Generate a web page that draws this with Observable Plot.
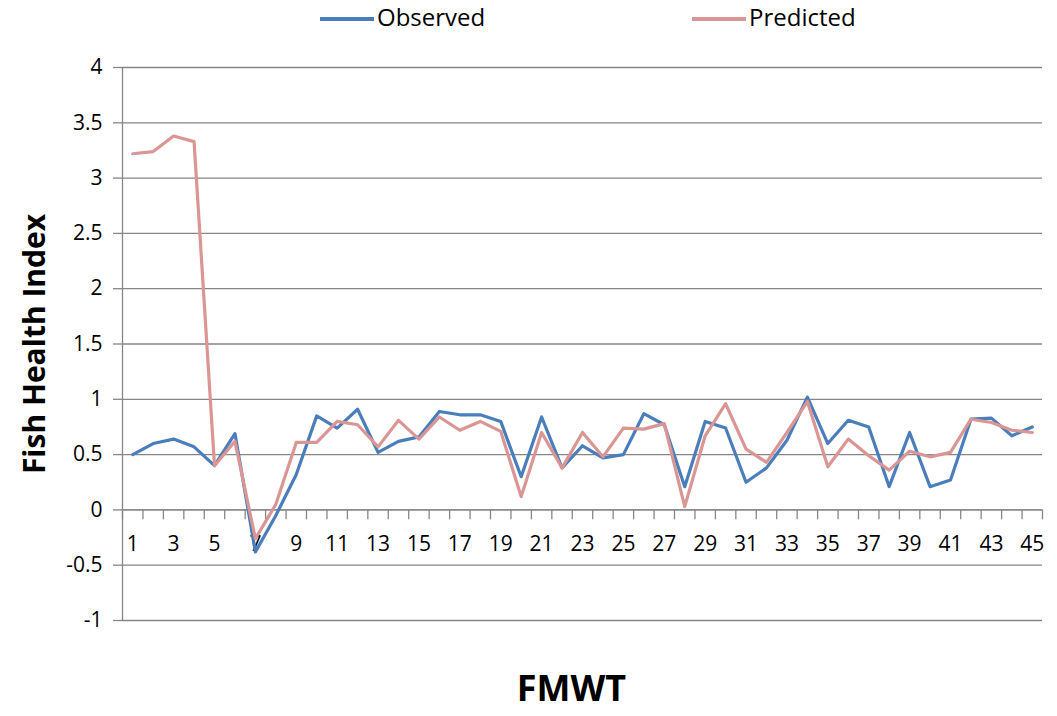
<!DOCTYPE html>
<html><head><meta charset="utf-8">
<script src="https://cdn.jsdelivr.net/npm/d3@7"></script>
<script src="https://cdn.jsdelivr.net/npm/@observablehq/plot@0.6"></script>
<style>
body{margin:0;background:#fff;font-family:"Open Sans","Noto Sans",sans-serif;}
#legend{position:relative;height:40px;width:1057px;}
.sw{position:absolute;top:17px;height:4px;width:54px;}
.lt{position:absolute;top:1px;font-size:24px;color:#000;line-height:32px;}
</style></head>
<body>
<div id="legend">
  <div class="sw" style="left:320px;background:#4a7ebb"></div><div class="lt" style="left:377px">Observed</div>
  <div class="sw" style="left:692px;background:#d99694"></div><div class="lt" style="left:749px">Predicted</div>
</div>
<div id="chart"></div>
<script>
const sites = [1,2,3,4,5,6,7,8,9,10,11,12,13,14,15,16,17,18,19,20,21,22,23,24,25,26,27,28,29,30,31,32,33,34,35,36,37,38,39,40,41,42,43,44,45];
const observed = [0.50,0.60,0.64,0.57,0.40,0.69,-0.38,-0.05,0.32,0.85,0.74,0.91,0.52,0.62,0.66,
  0.89,0.86,0.86,0.80,0.30,0.84,0.38,0.58,0.47,0.50,0.87,0.77,0.21,0.80,0.74,
  0.25,0.38,0.63,1.02,0.60,0.81,0.75,0.21,0.70,0.21,0.27,0.82,0.83,0.67,0.75];
const predicted = [3.22,3.24,3.38,3.33,0.40,0.62,-0.26,0.05,0.61,0.61,0.80,0.77,0.57,0.81,0.64,
  0.84,0.72,0.80,0.71,0.12,0.70,0.38,0.70,0.48,0.74,0.73,0.78,0.03,0.67,0.96,
  0.55,0.43,0.70,0.98,0.39,0.64,0.49,0.36,0.53,0.48,0.52,0.82,0.79,0.72,0.70];
const yTicks = [-1,-0.5,0,0.5,1,1.5,2,2.5,3,3.5,4];
const xLabels = sites.filter(d => d % 2 === 1);
const boundaries = [0.5].concat(sites.map(d => d + 0.5));

const obsData = sites.map((s,i) => ({site: s, value: observed[i]}));
const predData = sites.map((s,i) => ({site: s, value: predicted[i]}));

const grid = "#868686";
const chart = Plot.plot({
  width: 1057,
  height: 676,
  marginLeft: 122,
  marginRight: 15,
  marginTop: 27,
  marginBottom: 96,
  style: {fontFamily: "'Open Sans','Noto Sans',sans-serif", fontSize: "21px", color: "#000", background: "#fff"},
  x: {domain: [0.5, 45.5], axis: null},
  y: {domain: [-1, 4], axis: null},
  marks: [
    Plot.gridY(yTicks, {stroke: grid, strokeOpacity: 1, strokeWidth: 1.3}),
    Plot.axisY(yTicks, {tickSize: 9, tickPadding: 11, stroke: grid, strokeWidth: 1.3, tickFormat: d => String(d), fill: "#000", fontSize: 21, label: null}),
    Plot.ruleX([0.5], {stroke: grid, strokeWidth: 1.3}),
    Plot.ruleY([0], {stroke: grid, strokeWidth: 1.3}),
    Plot.ruleX(boundaries, {x: d => d, y1: 0, y2: -0.09, stroke: grid, strokeWidth: 1.3}),
    Plot.text(xLabels, {x: d => d, y: 0, dy: 34, text: d => String(d), fontSize: 21, fill: "#000"}),
    Plot.line(obsData, {x: "site", y: "value", stroke: "#4a7ebb", strokeWidth: 3.2}),
    Plot.line(predData, {x: "site", y: "value", stroke: "#d99694", strokeWidth: 3.2}),
    Plot.text(["Fish Health Index"], {frameAnchor: "left", textAnchor: "middle", dx: -87, rotate: -90, fontSize: 30, fontWeight: "bold", fill: "#000"}),
    Plot.text(["FMWT"], {frameAnchor: "bottom", dx: -11, dy: 80, fontSize: 36, fontWeight: "bold", fill: "#000"})
  ]
});
document.getElementById("chart").appendChild(chart);
</script>
</body></html>
